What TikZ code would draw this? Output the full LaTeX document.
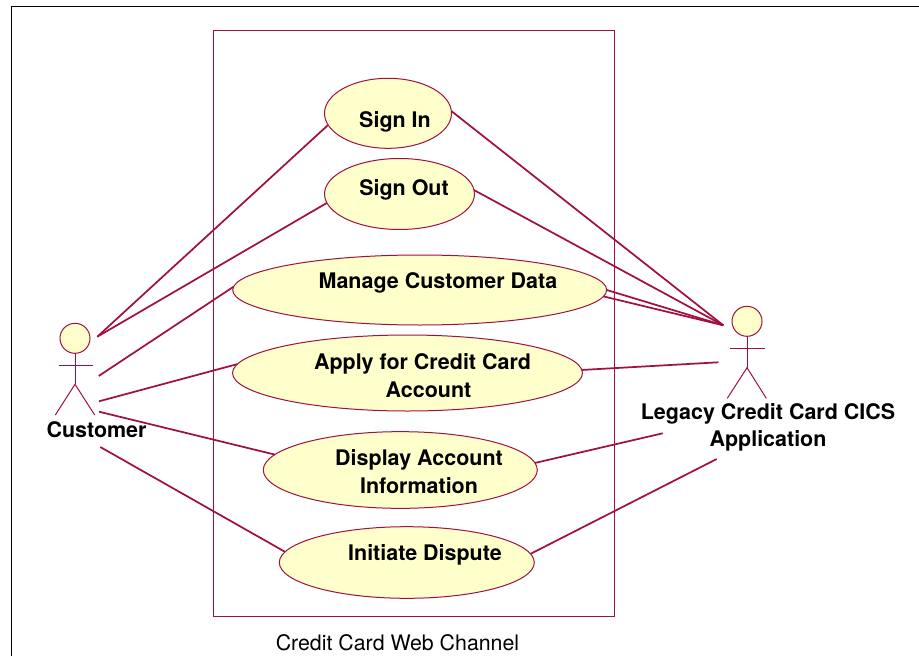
\documentclass[tikz,border=0pt]{standalone}
\usepackage{fontspec}
\setmainfont{TeX Gyre Heros}
\usetikzlibrary{shapes.geometric}
\definecolor{umlline}{HTML}{A01040}
\definecolor{umlfill}{HTML}{FFFFCC}
\tikzset{
 usecase/.style={ellipse,draw=umlline,fill=umlfill,line width=0.75pt,inner sep=0pt,outer sep=0pt},
 assoc/.style={draw=umlline,line width=1.3pt},
 thin line/.style={draw=umlline,line width=0.75pt},
 lab/.style={font=\bfseries\fontsize{16.1}{20.5}\selectfont,align=center,text=black,inner sep=0pt}
}
\begin{document}
\begin{tikzpicture}[x=0.75pt,y=-0.75pt]
\useasboundingbox (0,0) rectangle (919,656);
\draw[black,line width=0.9pt] (11.5,656) -- (11.5,6.5) -- (919,6.5);
\node[draw=umlline,line width=0.8pt,outer sep=0pt,minimum width=300.75pt,minimum height=439.5pt,inner sep=0pt,anchor=center] (sys) at (414,323.5) {};
\node[inner sep=0pt,font=\fontsize{16}{19}\selectfont] (syslab) at (397.5,642.5) {Credit Card Web Channel};
\node[usecase,minimum width=95.25pt,minimum height=52.5pt] (si) at (388,113.3) {};
\node[usecase,minimum width=112.5pt,minimum height=53.25pt] (so) at (399.5,194) {};
\node[usecase,minimum width=280.5pt,minimum height=52.5pt] (mc) at (419.7,290) {};
\node[usecase,minimum width=262.5pt,minimum height=57pt] (ap) at (407.5,373) {};
\node[usecase,minimum width=205.5pt,minimum height=57.5pt] (di) at (400.3,470) {};
\node[usecase,minimum width=191.25pt,minimum height=53.7pt] (in) at (406.8,562.5) {};
\node[lab] at (395,122) {Sign In};
\node[lab] at (404,190) {Sign Out};
\node[lab] at (438,283) {Manage Customer Data};
\node[lab] at (422.5,375.5) {Apply for Credit Card\\\hspace*{9pt}Account};
\node[lab] at (419,471.5) {Display Account\\Information};
\node[lab] at (425,554.5) {Initiate Dispute};
% actors
\node[usecase,circle,minimum size=22.5pt] (ca) at (75,338.3) {};
\coordinate (cah) at (75,384.3);
\draw[thin line] (ca.south) -- (cah);
\coordinate (caal) at (58.7,365.3); \coordinate (caar) at (93,365.3);
\draw[thin line] (caal) -- (caar);
\coordinate (call) at (55.3,415); \coordinate (calr) at (94.7,415);
\draw[thin line] (call) -- (cah) -- (calr);
\node[lab] (calab) at (96.5,429.5) {Customer};
\node[usecase,circle,minimum size=22.5pt] (le) at (747,321.3) {};
\coordinate (leh) at (747,367.7);
\draw[thin line] (le.south) -- (leh);
\coordinate (leal) at (730,348.7); \coordinate (lear) at (765,348.7);
\draw[thin line] (leal) -- (lear);
\coordinate (lell) at (727.3,398.3); \coordinate (lelr) at (766.3,398.3);
\draw[thin line] (lell) -- (leh) -- (lelr);
\node[lab] (lelab) at (768,427.5) {Legacy Credit Card CICS\\Application};
% free ends
\coordinate (c1) at (97.3,336.7);
\coordinate (c2) at (98.7,376);
\coordinate (c3) at (99,401.3);
\coordinate (c4) at (99,411.7);
\coordinate (c5) at (100.3,447);
\coordinate (l1) at (723.3,325.3);
\coordinate (l2) at (718.3,362.3);
\coordinate (l3) at (662.7,433.3);
\coordinate (l4) at (716.7,459);
\draw[assoc] (c1) -- (si.191.3);
\draw[assoc] (c1) -- (so.187.3);
\draw[assoc] (c2) -- (mc.179.5);
\draw[assoc] (c3) -- (ap.177.9);
\draw[assoc] (c4) -- (di.173.3);
\draw[assoc] (c5) -- (in.175.3);
\draw[assoc] (si.2) -- (l1);
\draw[assoc] (so.3) -- (l1);
\draw[assoc] (mc.0.7) -- (l1);
\draw[assoc] (mc.-2.6) -- (l1);
\draw[assoc] (ap.1.9) -- (l2);
\draw[assoc] (di.3.4) -- (l3);
\draw[assoc] (in.4.7) -- (l4);
\end{tikzpicture}
\end{document}
